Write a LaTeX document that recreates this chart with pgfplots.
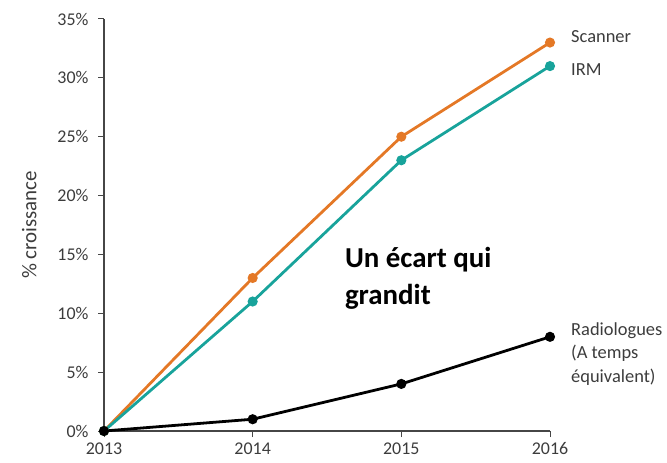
\documentclass[border=0pt]{standalone}
\usepackage{fontspec}
\setmainfont{Carlito}
\usepackage{pgfplots}
\pgfplotsset{compat=1.18}
\definecolor{scan}{RGB}{228,120,38}
\definecolor{irm}{RGB}{24,163,155}
\definecolor{txt}{RGB}{60,60,60}
\definecolor{axc}{RGB}{70,70,70}
\begin{document}
\begin{tikzpicture}
\begin{axis}[
  scale only axis, width=446bp, height=412bp,
  xmin=2013, xmax=2016, ymin=0, ymax=35,
  axis lines*=left,
  axis line style={axc, line width=1.1pt},
  tick align=outside,
  major tick length=6bp,
  tick style={axc, line width=1pt},
  xtick={2013,2014,2015,2016},
  ytick={0,5,10,15,20,25,30,35},
  x tick label style={/pgf/number format/1000 sep={}},
  yticklabel={\pgfmathprintnumber{\tick}\%},
  /pgf/number format/assume math mode=true,
  ticklabel style={font=\fontsize{18}{20}\selectfont, text=txt},
  xticklabel style={yshift=-2bp},
  yticklabel style={xshift=-6bp},
  ylabel={\% croissance},
  ylabel style={font=\fontsize{21}{22}\selectfont, text=txt},
  ylabel shift={14bp},
  clip=false,
]
\path (rel axis cs:0,0) coordinate (O);
\addplot[scan, line width=2.8pt, mark=*, mark size=3.6pt] coordinates {(2013,0) (2014,13) (2015,25) (2016,33)};
\addplot[irm, line width=2.8pt, mark=*, mark size=3.6pt] coordinates {(2013,0) (2014,11) (2015,23) (2016,31)};
\addplot[black, line width=2.8pt, mark=*, mark size=3.6pt] coordinates {(2013,0) (2014,1) (2015,4) (2016,8)};
\node[anchor=west, text=txt, font=\fontsize{18.5}{20}\selectfont, inner sep=0pt] at (axis cs:2016,33.47) [xshift=21bp] {Scanner};
\node[anchor=west, text=txt, font=\fontsize{18.5}{20}\selectfont, inner sep=0pt] at (axis cs:2016,30.67) [xshift=21bp] {IRM};
\node[anchor=west, text=txt, font=\fontsize{18.5}{24}\selectfont, inner sep=0pt, align=left] at (axis cs:2016,6.54) [xshift=21bp] {Radiologues\\(A temps\\équivalent)};
\node[anchor=west, text=black, font=\fontsize{29}{37}\selectfont\bfseries, inner sep=0pt, align=left] at (axis cs:2014.62,13.0) {Un écart qui\\grandit};
\end{axis}
\pgfresetboundingbox
\path (O) ++(-104bp,-32bp) rectangle ++(667bp,463bp);
\end{tikzpicture}
\end{document}
